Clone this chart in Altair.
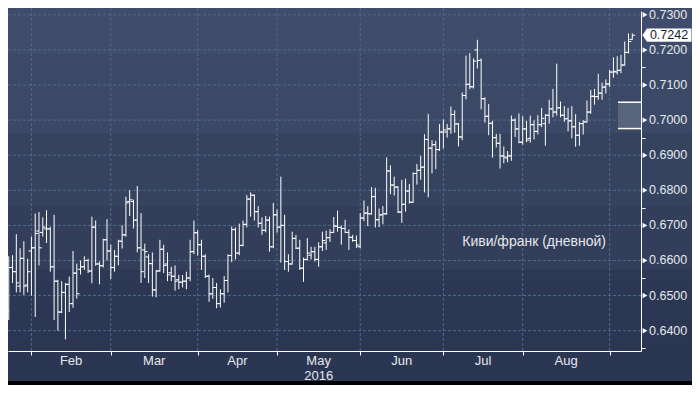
import altair as alt
import pandas as pd

# ---- data: daily OHLC, NZD/CHF, one bar per business day 22 Jan - 9 Sep 2016
dates = pd.bdate_range("2016-01-22", "2016-09-09")

opens = [
    .6456, .6580, .6568, .6527, .6606, .6530, .6627, .6636, .6684, .6680,
    .6690, .6690, .6582, .6541, .6453, .6509, .6532, .6477, .6564, .6575,
    .6582, .6600, .6570, .6695, .6590, .6585, .6659, .6627, .6580, .6612,
    .6655, .6673, .6768, .6768, .6715, .6636, .6630, .6610, .6591, .6516,
    .6570, .6632, .6590, .6565, .6555, .6545, .6538, .6541, .6550, .6625,
    .6679, .6645, .6612, .6555, .6505, .6523, .6477, .6505, .6543, .6614,
    .6688, .6621, .6643, .6703, .6775, .6786, .6739, .6706, .6686, .6715,
    .6639, .6730, .6695, .6700, .6597, .6590, .6663, .6635, .6578, .6603,
    .6615, .6625, .6603, .6639, .6650, .6665, .6680, .6698, .6694, .6691,
    .6680, .6666, .6657, .6639, .6721, .6735, .6733, .6782, .6716, .6730,
    .6733, .6855, .6815, .6809, .6738, .6760, .6798, .6766, .6848, .6857,
    .6866, .6945, .6920, .6930, .6916, .6966, .6966, .6975, .7016, .6989,
    .6952, .7070, .7102, .7095, .7200, .7170, .7061, .7011, .6991, .6950,
    .6934, .6898, .6892, .6898, .7000, .6975, .6937, .6975, .6948, .6987,
    .6968, .6987, .6990, .7014, .7032, .7023, .7035, .7014, .7004, .6998,
    .6981, .6957, .6990, .6995, .7023, .7068, .7067, .7077, .7094, .7103,
    .7137, .7137, .7142, .7157, .7193, .7230,
]
highs = [
    .6612, .6615, .6675, .6635, .6655, .6605, .6668, .6734, .6738, .6723,
    .6743, .6696, .6730, .6545, .6541, .6536, .6554, .6627, .6591, .6600,
    .6612, .6605, .6725, .6714, .6597, .6662, .6718, .6645, .6630, .6659,
    .6700, .6782, .6800, .6773, .6812, .6735, .6648, .6618, .6623, .6573,
    .6659, .6645, .6623, .6582, .6586, .6559, .6559, .6568, .6659, .6714,
    .6686, .6659, .6618, .6560, .6550, .6536, .6518, .6556, .6618, .6697,
    .6694, .6705, .6714, .6786, .6794, .6788, .6755, .6723, .6727, .6725,
    .6764, .6745, .6839, .6730, .6618, .6682, .6673, .6659, .6608, .6664,
    .6639, .6639, .6652, .6682, .6685, .6689, .6724, .6742, .6700, .6716,
    .6689, .6673, .6671, .6735, .6771, .6755, .6809, .6807, .6748, .6755,
    .6894, .6871, .6839, .6812, .6830, .6833, .6818, .6851, .6875, .6898,
    .6960, .7018, .6943, .6941, .6989, .7002, .6989, .7039, .7028, .6992,
    .7079, .7184, .7191, .7176, .7229, .7176, .7065, .7046, .6998, .6961,
    .6961, .6925, .6912, .7013, .7005, .7019, .7011, .6998, .7013, .6999,
    .7014, .7035, .7017, .7058, .7089, .7161, .7053, .7040, .7035, .7040,
    .7017, .6995, .7000, .7056, .7086, .7089, .7132, .7107, .7116, .7143,
    .7179, .7182, .7186, .7224, .7247, .7247,
]
lows = [
    .6430, .6536, .6509, .6509, .6502, .6509, .6500, .6439, .6586, .6668,
    .6650, .6568, .6430, .6400, .6450, .6375, .6453, .6465, .6491, .6560,
    .6573, .6564, .6535, .6585, .6532, .6580, .6600, .6547, .6568, .6586,
    .6634, .6668, .6727, .6691, .6623, .6536, .6550, .6536, .6497, .6495,
    .6568, .6564, .6541, .6541, .6514, .6518, .6523, .6518, .6541, .6618,
    .6614, .6573, .6550, .6482, .6491, .6464, .6466, .6480, .6509, .6595,
    .6603, .6615, .6640, .6694, .6725, .6714, .6694, .6673, .6680, .6625,
    .6635, .6679, .6594, .6573, .6568, .6588, .6632, .6573, .6539, .6600,
    .6603, .6597, .6582, .6627, .6630, .6653, .6678, .6682, .6645, .6678,
    .6630, .6653, .6636, .6635, .6712, .6698, .6730, .6694, .6695, .6703,
    .6730, .6789, .6785, .6735, .6707, .6739, .6762, .6764, .6816, .6830,
    .6794, .6780, .6848, .6860, .6912, .6919, .6950, .6961, .6964, .6925,
    .6943, .7059, .7088, .7090, .7147, .7031, .6993, .6957, .6893, .6922,
    .6862, .6877, .6880, .6884, .6952, .6934, .6930, .6937, .6936, .6945,
    .6959, .6980, .6927, .6990, .7008, .7013, .7008, .6995, .6968, .6948,
    .6924, .6927, .6959, .6993, .7018, .7044, .7058, .7058, .7076, .7094,
    .7121, .7130, .7134, .7155, .7190, .7229,
]
closes = [
    .6580, .6568, .6536, .6606, .6527, .6568, .6636, .6677, .6636, .6695,
    .6690, .6582, .6541, .6453, .6509, .6532, .6477, .6564, .6505, .6582,
    .6600, .6570, .6695, .6590, .6585, .6659, .6627, .6580, .6612, .6655,
    .6673, .6764, .6773, .6715, .6636, .6568, .6625, .6591, .6516, .6570,
    .6632, .6586, .6559, .6555, .6541, .6538, .6541, .6550, .6625, .6679,
    .6645, .6612, .6555, .6505, .6523, .6477, .6505, .6543, .6614, .6688,
    .6621, .6643, .6703, .6775, .6786, .6739, .6706, .6686, .6715, .6639,
    .6730, .6695, .6700, .6597, .6590, .6663, .6635, .6578, .6603, .6621,
    .6625, .6603, .6639, .6657, .6665, .6680, .6698, .6694, .6691, .6680,
    .6666, .6657, .6644, .6721, .6735, .6733, .6782, .6716, .6730, .6733,
    .6855, .6815, .6809, .6738, .6760, .6798, .6766, .6848, .6857, .6866,
    .6945, .6920, .6930, .6916, .6966, .6972, .6975, .7016, .6989, .6952,
    .7070, .7102, .7095, .7168, .7170, .7061, .7011, .6991, .6950, .6934,
    .6898, .6895, .6898, .7000, .6975, .6937, .6975, .6943, .6987, .6968,
    .6987, .7005, .7014, .7032, .7023, .7035, .7014, .7004, .6998, .6981,
    .6957, .6990, .6995, .7023, .7068, .7067, .7077, .7094, .7103, .7137,
    .7139, .7142, .7157, .7193, .7224, .7242,
]

month_names = ["Feb", "Mar", "Apr", "May", "Jun", "Jul", "Aug"]
year_label = "2016"
y_grid = [0.64, 0.65, 0.66, 0.67, 0.68, 0.69, 0.70, 0.71, 0.72, 0.73]
y_minor = [0.635, 0.645, 0.655, 0.665, 0.675, 0.685, 0.695, 0.705, 0.715, 0.725]
last_price = 0.7242
band_top, band_bottom = 0.7051, 0.6976
series_label = "Киви/франк (дневной)"
label_pos = {"i": 120, "v": 0.6652}

# ---- tables
n = len(dates)
df = pd.DataFrame({"i": list(range(n)), "date": dates.strftime("%Y-%m-%d"),
                   "open": opens, "high": highs, "low": lows, "close": closes})
month_starts = [k for k in range(1, n) if dates[k].month != dates[k - 1].month]
mid = [(month_starts[k] + month_starts[k + 1]) / 2 for k in range(len(month_names))]
months_df = pd.DataFrame({"m": mid, "name": month_names})
year_df = pd.DataFrame({"m": [mid[month_names.index("May")]], "name": [year_label]})
ylab_df = pd.DataFrame({"g": y_grid, "t": [f"{v:.4f}" for v in y_grid]})

TOP = 3
W, H = 633, 340
TOTAL_W, TOTAL_H = 684, 377
WHITE = "#ffffff"
TXT = "#e6e8ec"
FONT = "Liberation Sans"

xs = alt.Scale(domain=[-0.2, 167.3], nice=False, zero=False)
ys = alt.Scale(domain=[0.6342, 0.7311], nice=False, zero=False)
x_axis = alt.Axis(values=month_starts, labels=False, grid=False, domainColor=WHITE,
                  tickColor=WHITE, tickSize=4, title=None, domainWidth=1, zindex=2)
y_axis = alt.Axis(orient="right", values=y_minor, labels=False, grid=False, domainColor=WHITE,
                  tickColor=WHITE, tickSize=4, title=None, domainWidth=1, zindex=2)

one = pd.DataFrame({"a": [0]})

bg = alt.Chart(one).mark_rect(
    color=alt.Gradient(
        gradient="linear", x1=0, y1=0, x2=0, y2=1,
        stops=[
            alt.GradientStop(offset=0, color="#3f4c6b"),
            alt.GradientStop(offset=0.122, color="#3f4c6b"),
            alt.GradientStop(offset=0.122, color="#3b4866"),
            alt.GradientStop(offset=0.331, color="#3b4866"),
            alt.GradientStop(offset=0.331, color="#36435f"),
            alt.GradientStop(offset=0.524, color="#36435f"),
            alt.GradientStop(offset=0.524, color="#323e5a"),
            alt.GradientStop(offset=0.695, color="#323e5a"),
            alt.GradientStop(offset=0.695, color="#2c3854"),
            alt.GradientStop(offset=0.99, color="#2a3551"),
            alt.GradientStop(offset=0.99, color="#000000"),
            alt.GradientStop(offset=1, color="#000000"),
        ],
    )
).encode(x=alt.value(0), x2=alt.value(TOTAL_W), y=alt.value(-TOP), y2=alt.value(TOTAL_H - TOP))

grid_col = "#4d6b8c"
hgrid = alt.Chart(pd.DataFrame({"g": y_grid})).mark_rule(
    color=grid_col, strokeDash=[3, 2], strokeWidth=1
).encode(y=alt.Y("g:Q", scale=ys, axis=y_axis))
vgrid = alt.Chart(pd.DataFrame({"s": month_starts})).mark_rule(
    color=grid_col, strokeDash=[3, 2], strokeWidth=1
).encode(x=alt.X("s:Q", scale=xs, axis=x_axis), y=alt.value(-TOP), y2=alt.value(H))

band_df = pd.DataFrame({"a": [band_top], "b": [band_bottom]})
band = alt.Chart(band_df).mark_rect(color="#58657c").encode(
    x=alt.value(610), x2=alt.value(W), y=alt.Y("a:Q", scale=ys), y2="b:Q")
band_lines = alt.Chart(pd.DataFrame({"v": [band_top, band_bottom]})).mark_rule(
    color=WHITE, strokeWidth=1.5).encode(x=alt.value(610), x2=alt.value(W), y=alt.Y("v:Q", scale=ys))

base = alt.Chart(df).transform_calculate(il="datum.i - 0.75", ir="datum.i + 0.75")
hl = base.mark_rule(color=WHITE, strokeWidth=1).encode(
    x=alt.X("i:Q", scale=xs, axis=x_axis), y=alt.Y("low:Q", scale=ys, axis=y_axis), y2="high:Q")
op = base.mark_rule(color=WHITE, strokeWidth=1).encode(
    x=alt.X("il:Q", scale=xs), x2="i:Q", y=alt.Y("open:Q", scale=ys))
cl = base.mark_rule(color=WHITE, strokeWidth=1).encode(
    x=alt.X("i:Q", scale=xs), x2="ir:Q", y=alt.Y("close:Q", scale=ys))

lbl = alt.Chart(pd.DataFrame([{"i": label_pos["i"], "v": label_pos["v"], "t": series_label}])).mark_text(
    align="left", baseline="middle", color=TXT, font=FONT, fontSize=14
).encode(x=alt.X("i:Q", scale=xs), y=alt.Y("v:Q", scale=ys), text="t:N")

tri = alt.Chart(pd.DataFrame({"g": y_grid})).mark_point(
    shape="triangle-right", filled=True, color=WHITE, opacity=1, size=30
).encode(x=alt.value(W + 4), y=alt.Y("g:Q", scale=ys))

ylabels = alt.Chart(ylab_df).mark_text(
    align="left", baseline="middle", color=TXT, font=FONT, fontSize=12.5
).encode(x=alt.value(W + 8), y=alt.Y("g:Q", scale=ys), text="t:N")

price_df = pd.DataFrame({"p": [last_price], "t": [f"{last_price:.4f}"]})
pbox = alt.Chart(price_df).mark_point(
    shape="M-1,0 L-0.82,-0.27 L1,-0.27 L1,0.27 L-0.82,0.27 Z",
    filled=True, color=WHITE, opacity=1, size=2401
).encode(x=alt.value(659), y=alt.Y("p:Q", scale=ys))
ptxt = alt.Chart(price_df).mark_text(
    align="center", baseline="middle", color="#141c30", font=FONT, fontSize=12.5
).encode(x=alt.value(661), y=alt.Y("p:Q", scale=ys), text="t:N")

mlab = alt.Chart(months_df).mark_text(
    baseline="middle", align="center", color=TXT, font=FONT, fontSize=13
).encode(x=alt.X("m:Q", scale=xs), y=alt.value(H + 10), text="name:N")
ylab = alt.Chart(year_df).mark_text(
    baseline="middle", align="center", color=TXT, font=FONT, fontSize=13
).encode(x=alt.X("m:Q", scale=xs), y=alt.value(H + 25), text="name:N")

chart = alt.layer(bg, hgrid, vgrid, band, band_lines, hl, op, cl, lbl, tri, ylabels,
                  pbox, ptxt, mlab, ylab).properties(
    width=W, height=H,
    padding={"left": 0, "top": TOP, "right": TOTAL_W - W, "bottom": TOTAL_H - H - TOP},
    autosize=alt.AutoSizeParams(type="none"),
).configure_view(stroke=None).configure(background="#2a3551")

chart.save("out.html", embed_options={"renderer": "svg", "actions": False})
